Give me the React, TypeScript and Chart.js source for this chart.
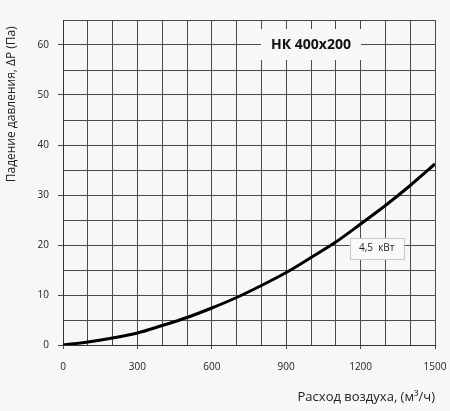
import React, { useEffect, useRef } from "react";
import { Chart, registerables } from "chart.js";

Chart.register(...registerables);

// Airflow (m³/h) and pressure drop (Pa)
const airflow = [0, 100, 200, 300, 400, 500, 600, 700, 800, 900, 1000, 1100, 1200, 1300, 1400, 1500];
const pressure = [0, 0.6, 1.4, 2.4, 3.9, 5.5, 7.4, 9.5, 11.9, 14.5, 17.5, 20.6, 24.2, 27.9, 31.9, 36.2];

const xTickLabels = [0, 300, 600, 900, 1200, 1500];
const yTickLabels = [0, 10, 20, 30, 40, 50, 60];

const xTitle = "Расход воздуха, (м³/ч)";
const yTitle = "Падение давления, ΔP (Па)  ";
const modelLabel = "НК 400x200";
const powerLabel = "4,5  кВт";
const modelLabelAt = { x: 1000, y: 60 };
const powerLabelAt = { x: 1265, y: 19.3 };

const BG = "#f7f7f7";
const GRID = "#4a4a4a";
const FONT = "'Open Sans', 'DejaVu Sans', sans-serif";

const labelsPlugin = {
  id: "labelsPlugin",
  afterDatasetsDraw(chart: any) {
    const { ctx, scales } = chart;
    const xs = scales.x;
    const ys = scales.y;
    ctx.save();
    // model label
    let cx = xs.getPixelForValue(modelLabelAt.x);
    let cy = ys.getPixelForValue(modelLabelAt.y);
    ctx.fillStyle = BG;
    ctx.fillRect(cx - 50, cy - 16, 100, 31);
    ctx.fillStyle = "#111";
    ctx.font = `bold 14px ${FONT}`;
    ctx.textAlign = "center";
    ctx.textBaseline = "middle";
    ctx.fillText(modelLabel, cx, cy);
    // power label
    cx = xs.getPixelForValue(powerLabelAt.x);
    cy = ys.getPixelForValue(powerLabelAt.y);
    ctx.fillStyle = "#fafafa";
    ctx.fillRect(cx - 27, cy - 10.5, 54, 21);
    ctx.strokeStyle = "#c8c8c8";
    ctx.lineWidth = 1;
    ctx.strokeRect(Math.round(cx - 27) + 0.5, Math.round(cy - 10.5) + 0.5, 54, 21);
    ctx.fillStyle = "#222";
    ctx.font = `10px ${FONT}`;
    ctx.fillText(powerLabel, cx, cy);
    ctx.restore();
  },
};

export default function App() {
  const ref = useRef<HTMLCanvasElement | null>(null);

  useEffect(() => {
    if (!ref.current) return;
    const chart = new Chart(ref.current, {
      type: "line",
      data: {
        datasets: [
          {
            data: airflow.map((x, i) => ({ x, y: pressure[i] })),
            borderColor: "#000",
            borderWidth: 3,
            pointRadius: 0,
            fill: false,
            cubicInterpolationMode: "monotone",
          },
        ],
      },
      options: {
        animation: false,
        responsive: true,
        maintainAspectRatio: false,
        layout: { padding: { left: 0, right: 15, top: 20, bottom: 0 } },
        plugins: { legend: { display: false }, tooltip: { enabled: false } },
        scales: {
          x: {
            type: "linear",
            min: 0,
            max: 1500,
            afterFit: (s: any) => {
              s.height = 66;
              s.paddingLeft = 0;
              s.paddingRight = 0;
            },
            ticks: {
              stepSize: 100,
              autoSkip: false,
              maxRotation: 0,
              padding: 12,
              color: "#222",
              font: { family: FONT, size: 10 },
              callback: (v: any) => (xTickLabels.includes(Number(v)) ? String(v) : ""),
            },
            grid: {
              color: GRID,
              lineWidth: 1,
              tickLength: 4,
              tickColor: (c: any) =>
                c.tick && xTickLabels.includes(c.tick.value) ? GRID : "rgba(0,0,0,0)",
            },
            border: { display: true, color: "#333" },
            title: {
              display: true,
              text: xTitle,
              align: "end",
              color: "#222",
              font: { family: FONT, size: 13 },
              padding: { top: 0, bottom: 6 },
            },
          },
          y: {
            type: "linear",
            min: 0,
            max: 65,
            afterFit: (s: any) => {
              s.width = 63;
              s.paddingTop = 0;
              s.paddingBottom = 0;
            },
            ticks: {
              stepSize: 5,
              autoSkip: false,
              padding: 9,
              color: "#222",
              font: { family: FONT, size: 10 },
              callback: (v: any) => (yTickLabels.includes(Number(v)) ? String(v) : ""),
            },
            grid: {
              color: GRID,
              lineWidth: 1,
              tickLength: 5,
              tickColor: (c: any) =>
                c.tick && yTickLabels.includes(c.tick.value) ? GRID : "rgba(0,0,0,0)",
            },
            border: { display: true, color: "#333" },
            title: {
              display: true,
              text: yTitle,
              align: "end",
              color: "#222",
              font: { family: FONT, size: 12 },
              padding: { top: 4, bottom: 0 },
            },
          },
        },
      } as any,
      plugins: [labelsPlugin],
    });
    return () => chart.destroy();
  }, []);

  return (
    <div
      style={{
        position: "absolute",
        left: 0,
        top: 0,
        width: 450,
        height: 411,
        background: BG,
      }}
    >
      <canvas ref={ref} />
    </div>
  );
}
